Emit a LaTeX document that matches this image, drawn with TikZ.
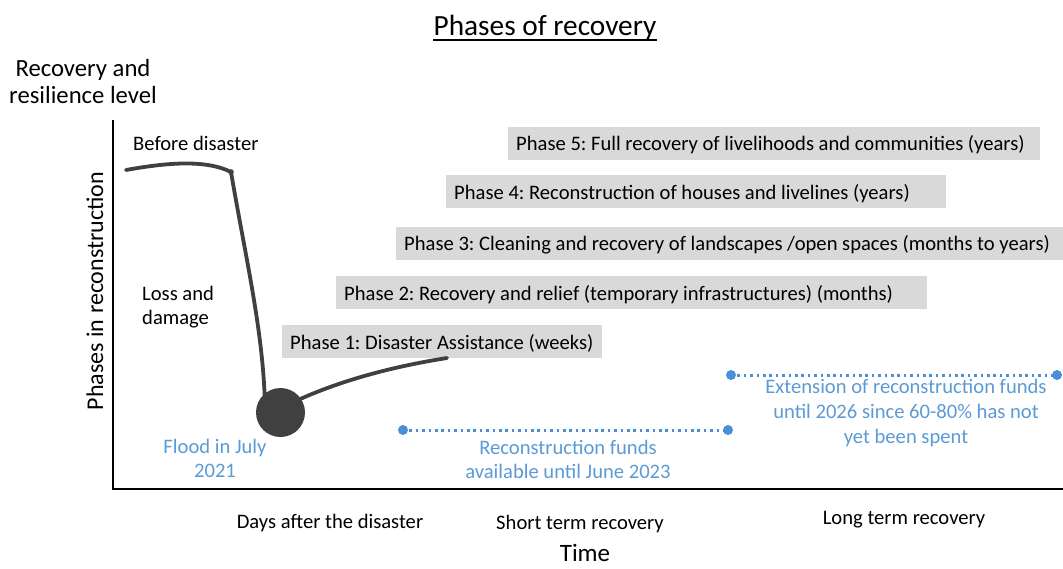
\documentclass[tikz,border=0pt]{standalone}
\usepackage{fontspec}
\setmainfont{Carlito}
\frenchspacing
\definecolor{boxgray}{RGB}{217,217,217}
\definecolor{curvegray}{RGB}{64,64,64}
\definecolor{bluetext}{RGB}{91,155,213}
\definecolor{blueline}{RGB}{74,144,217}
\newcommand{\phasetext}[2]{\makebox[#1][l]{#2}}
\begin{document}
\begin{tikzpicture}[x=1pt,y=-1pt,
  txt/.style={inner sep=0pt,anchor=base,font=\fontsize{20.6}{24}\selectfont},
  txtl/.style={txt,anchor=base west},
  bluetxt/.style={txt,text=bluetext},
  phasebox/.style={fill=boxgray,draw=none,anchor=west,inner xsep=8pt,inner ysep=0pt,
    minimum height=33pt,text height=20pt,text depth=5pt,
    font=\fontsize{20.6}{24}\selectfont},
  curve/.style={draw=curvegray,line width=3.8pt,line cap=round},
  fundline/.style={draw=blueline,line width=3pt,dash pattern=on 2.6pt off 3.8pt},
  funddot/.style={circle,fill=blueline,inner sep=0pt,minimum size=10pt},
  axis/.style={draw=black,line width=2.6pt}
]
\useasboundingbox (0,0) rectangle (1063,568);

% title
\node[txt,font=\fontsize{29.3}{34}\selectfont] (title) at (545,35) {Phases of recovery};
\draw[line width=1.6pt] ([yshift=-5pt]title.base west) -- ([yshift=-5pt]title.base east);

% y-axis label
\node[txt,font=\fontsize{24.7}{28}\selectfont] (ylab1) at (83,76) {Recovery and};
\node[txt,font=\fontsize{24.7}{28}\selectfont] (ylab2) at (83,103) {resilience level};
\node[txt,rotate=90,font=\fontsize{24}{28}\selectfont] (phlab) at (103,291) {Phases in reconstruction};

% axes
\coordinate (origin) at (113,489);
\coordinate (ytop) at (113,120);
\coordinate (xend) at (1063,489);
\draw[axis] (ytop) -- (origin) -- (xend);

% phase boxes
\node[phasebox] (p5) at (508,143) {\phasetext{516pt}{Phase 5: Full recovery of livelihoods and communities (years)}};
\node[phasebox] (p4) at (446,191.5) {\phasetext{484pt}{Phase 4: Reconstruction of houses and livelines (years)}};
\node[phasebox] (p3) at (396,243) {\phasetext{651pt}{Phase 3: Cleaning and recovery of landscapes /open spaces (months to years)}};
\node[phasebox] (p2) at (336,292.5) {\phasetext{575pt}{Phase 2: Recovery and relief (temporary infrastructures) (months)}};
\node[phasebox] (p1) at (282,341.5) {\phasetext{304pt}{Phase 1: Disaster Assistance (weeks)}};

% recovery curve
\coordinate (c0) at (126,170);
\coordinate (c1) at (231,172);
\coordinate (c2) at (265,405);
\coordinate (c3) at (298,400);
\coordinate (c4) at (447,358);
\draw[curve] (c0) .. controls (165,163) and (205,159) .. (c1);
\draw[curve] (c1) .. controls (246,260) and (263,330) .. (c2);
\fill[curvegray] (c1) circle (2.8pt);
\draw[curve] (c3) .. controls (340,381) and (390,367) .. (c4);
\node[circle,fill=curvegray,inner sep=0pt,minimum size=49pt] (flood) at (280.5,412.5) {};

% texts on the curve
\node[txtl] (before) at (133,150) {Before disaster};
\node[txtl] (loss1) at (142,300) {Loss and};
\node[txtl] (loss2) at (142,324) {damage};
\node[bluetxt] (fl1) at (215,453) {Flood in July};
\node[bluetxt] (fl2) at (215,477) {2021};

% funds lines
\node[funddot] (f1a) at (403,430) {};
\node[funddot] (f1b) at (728,430) {};
\draw[fundline] (f1a.center) -- (f1b.center);
\node[funddot] (f2a) at (731,375) {};
\node[funddot] (f2b) at (1057,375) {};
\draw[fundline] (f2a.center) -- (f2b.center);

\node[bluetxt] (rf1) at (568,454) {Reconstruction funds};
\node[bluetxt] (rf2) at (568,478) {available until June 2023};
\node[bluetxt] (ex1) at (906,393) {Extension of reconstruction funds};
\node[bluetxt] (ex2) at (906,418) {until 2026 since 60-80\% has not};
\node[bluetxt] (ex3) at (906,443) {yet been spent};

% x-axis labels
\node[txt] (days) at (330,528) {Days after the disaster};
\node[txt] (short) at (580,529) {Short term recovery};
\node[txt] (long) at (904,524) {Long term recovery};
\node[txt,font=\fontsize{25}{28}\selectfont] (time) at (585,561) {Time};
\end{tikzpicture}
\end{document}
